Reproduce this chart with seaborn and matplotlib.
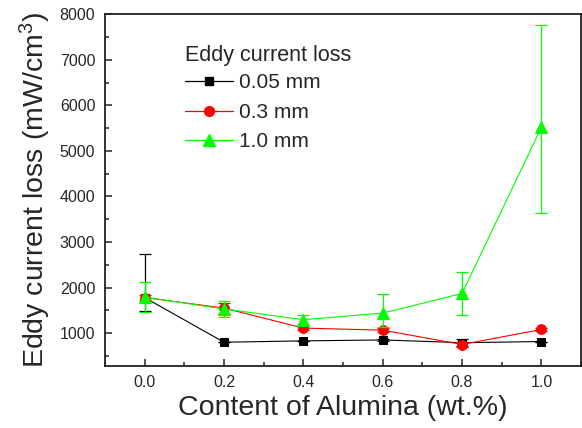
import matplotlib
matplotlib.use("Agg")
import matplotlib.pyplot as plt
import seaborn as sns
import pandas as pd
import numpy as np
from matplotlib.lines import Line2D
from matplotlib.ticker import MultipleLocator

sns.set_style("ticks")
plt.rcParams['font.family'] = ['Liberation Sans', 'DejaVu Sans']
plt.rcParams['mathtext.default'] = 'regular'

# ---- data ----
alumina = [0.0, 0.2, 0.4, 0.6, 0.8, 1.0]
series_names = ["0.05 mm", "0.3 mm", "1.0 mm"]
loss_005 = [1780, 800, 830, 850, 790, 815]
loss_03 = [1780, 1550, 1110, 1065, 750, 1080]
loss_10 = [1790, 1530, 1295, 1440, 1870, 5520]
err_005_low = [300, 0, 0, 30, 80, 0]
err_005_high = [950, 0, 0, 30, 80, 0]
err_03 = [60, 120, 40, 40, 60, 30]
err_10_low = [320, 175, 100, 310, 465, 1890]
err_10_high = [330, 175, 100, 410, 465, 2240]

colors = ["#000000", "#ff0000", "#00ff00"]
markers = ["s", "o", "^"]
msizes = [6, 7, 8]

df = pd.DataFrame({
    "x": alumina * 3,
    "y": loss_005 + loss_03 + loss_10,
    "series": [series_names[0]] * 6 + [series_names[1]] * 6 + [series_names[2]] * 6,
})

fig = plt.figure(figsize=(5.82, 4.28), dpi=100)
ax = fig.add_axes([0.1804, 0.1456, 0.818, 0.821])

errs = [np.array([err_005_low, err_005_high]), np.array(err_03),
        np.array([err_10_low, err_10_high])]
for i, name in enumerate(series_names):
    sub = df[df["series"] == name]
    ax.errorbar(sub["x"], sub["y"], yerr=errs[i], fmt='none', ecolor=colors[i],
                elinewidth=0.9, capsize=4, capthick=0.9, zorder=2 + i)
    sns.lineplot(data=sub, x="x", y="y", ax=ax, color=colors[i], marker=markers[i],
                 markersize=msizes[i], markeredgecolor=colors[i], linewidth=0.8,
                 legend=False, zorder=2 + i)

ax.set_xlim(-0.1, 1.1)
ax.set_ylim(285, 8000)
ax.xaxis.set_major_locator(MultipleLocator(0.2))
ax.xaxis.set_minor_locator(MultipleLocator(0.1))
ax.yaxis.set_major_locator(MultipleLocator(1000))
ax.yaxis.set_minor_locator(MultipleLocator(500))
ax.set_yticks([1000, 2000, 3000, 4000, 5000, 6000, 7000, 8000])
ax.tick_params(which='major', direction='in', length=5, width=1.1, labelsize=11.5, pad=7)
ax.tick_params(which='minor', direction='in', length=3, width=1.1)
ax.tick_params(top=False, right=False, which='both')
ax.xaxis.set_major_formatter(matplotlib.ticker.FormatStrFormatter('%.1f'))

for s in ax.spines.values():
    s.set_visible(True)
    s.set_linewidth(1.3)
    s.set_color('#222222')

ax.set_xlabel("Content of Alumina (wt.%)", fontsize=20.5, labelpad=3)
ax.set_ylabel("Eddy current loss (mW/cm$^3$)", fontsize=20.5, labelpad=5)

handles = [Line2D([0], [0], color=colors[i], marker=markers[i], markersize=msizes[i],
                  lw=0.9, markeredgecolor=colors[i]) for i in range(3)]
leg = ax.legend(handles, series_names, title="Eddy current loss", loc='upper left',
                bbox_to_anchor=(0.15, 0.935), frameon=False, fontsize=15,
                title_fontsize=15.5, handlelength=2.3, handletextpad=0.3,
                labelspacing=0.5, borderaxespad=0)
leg._legend_box.align = "left"
leg._legend_box.sep = 5

fig.savefig("out.png", dpi=100)
